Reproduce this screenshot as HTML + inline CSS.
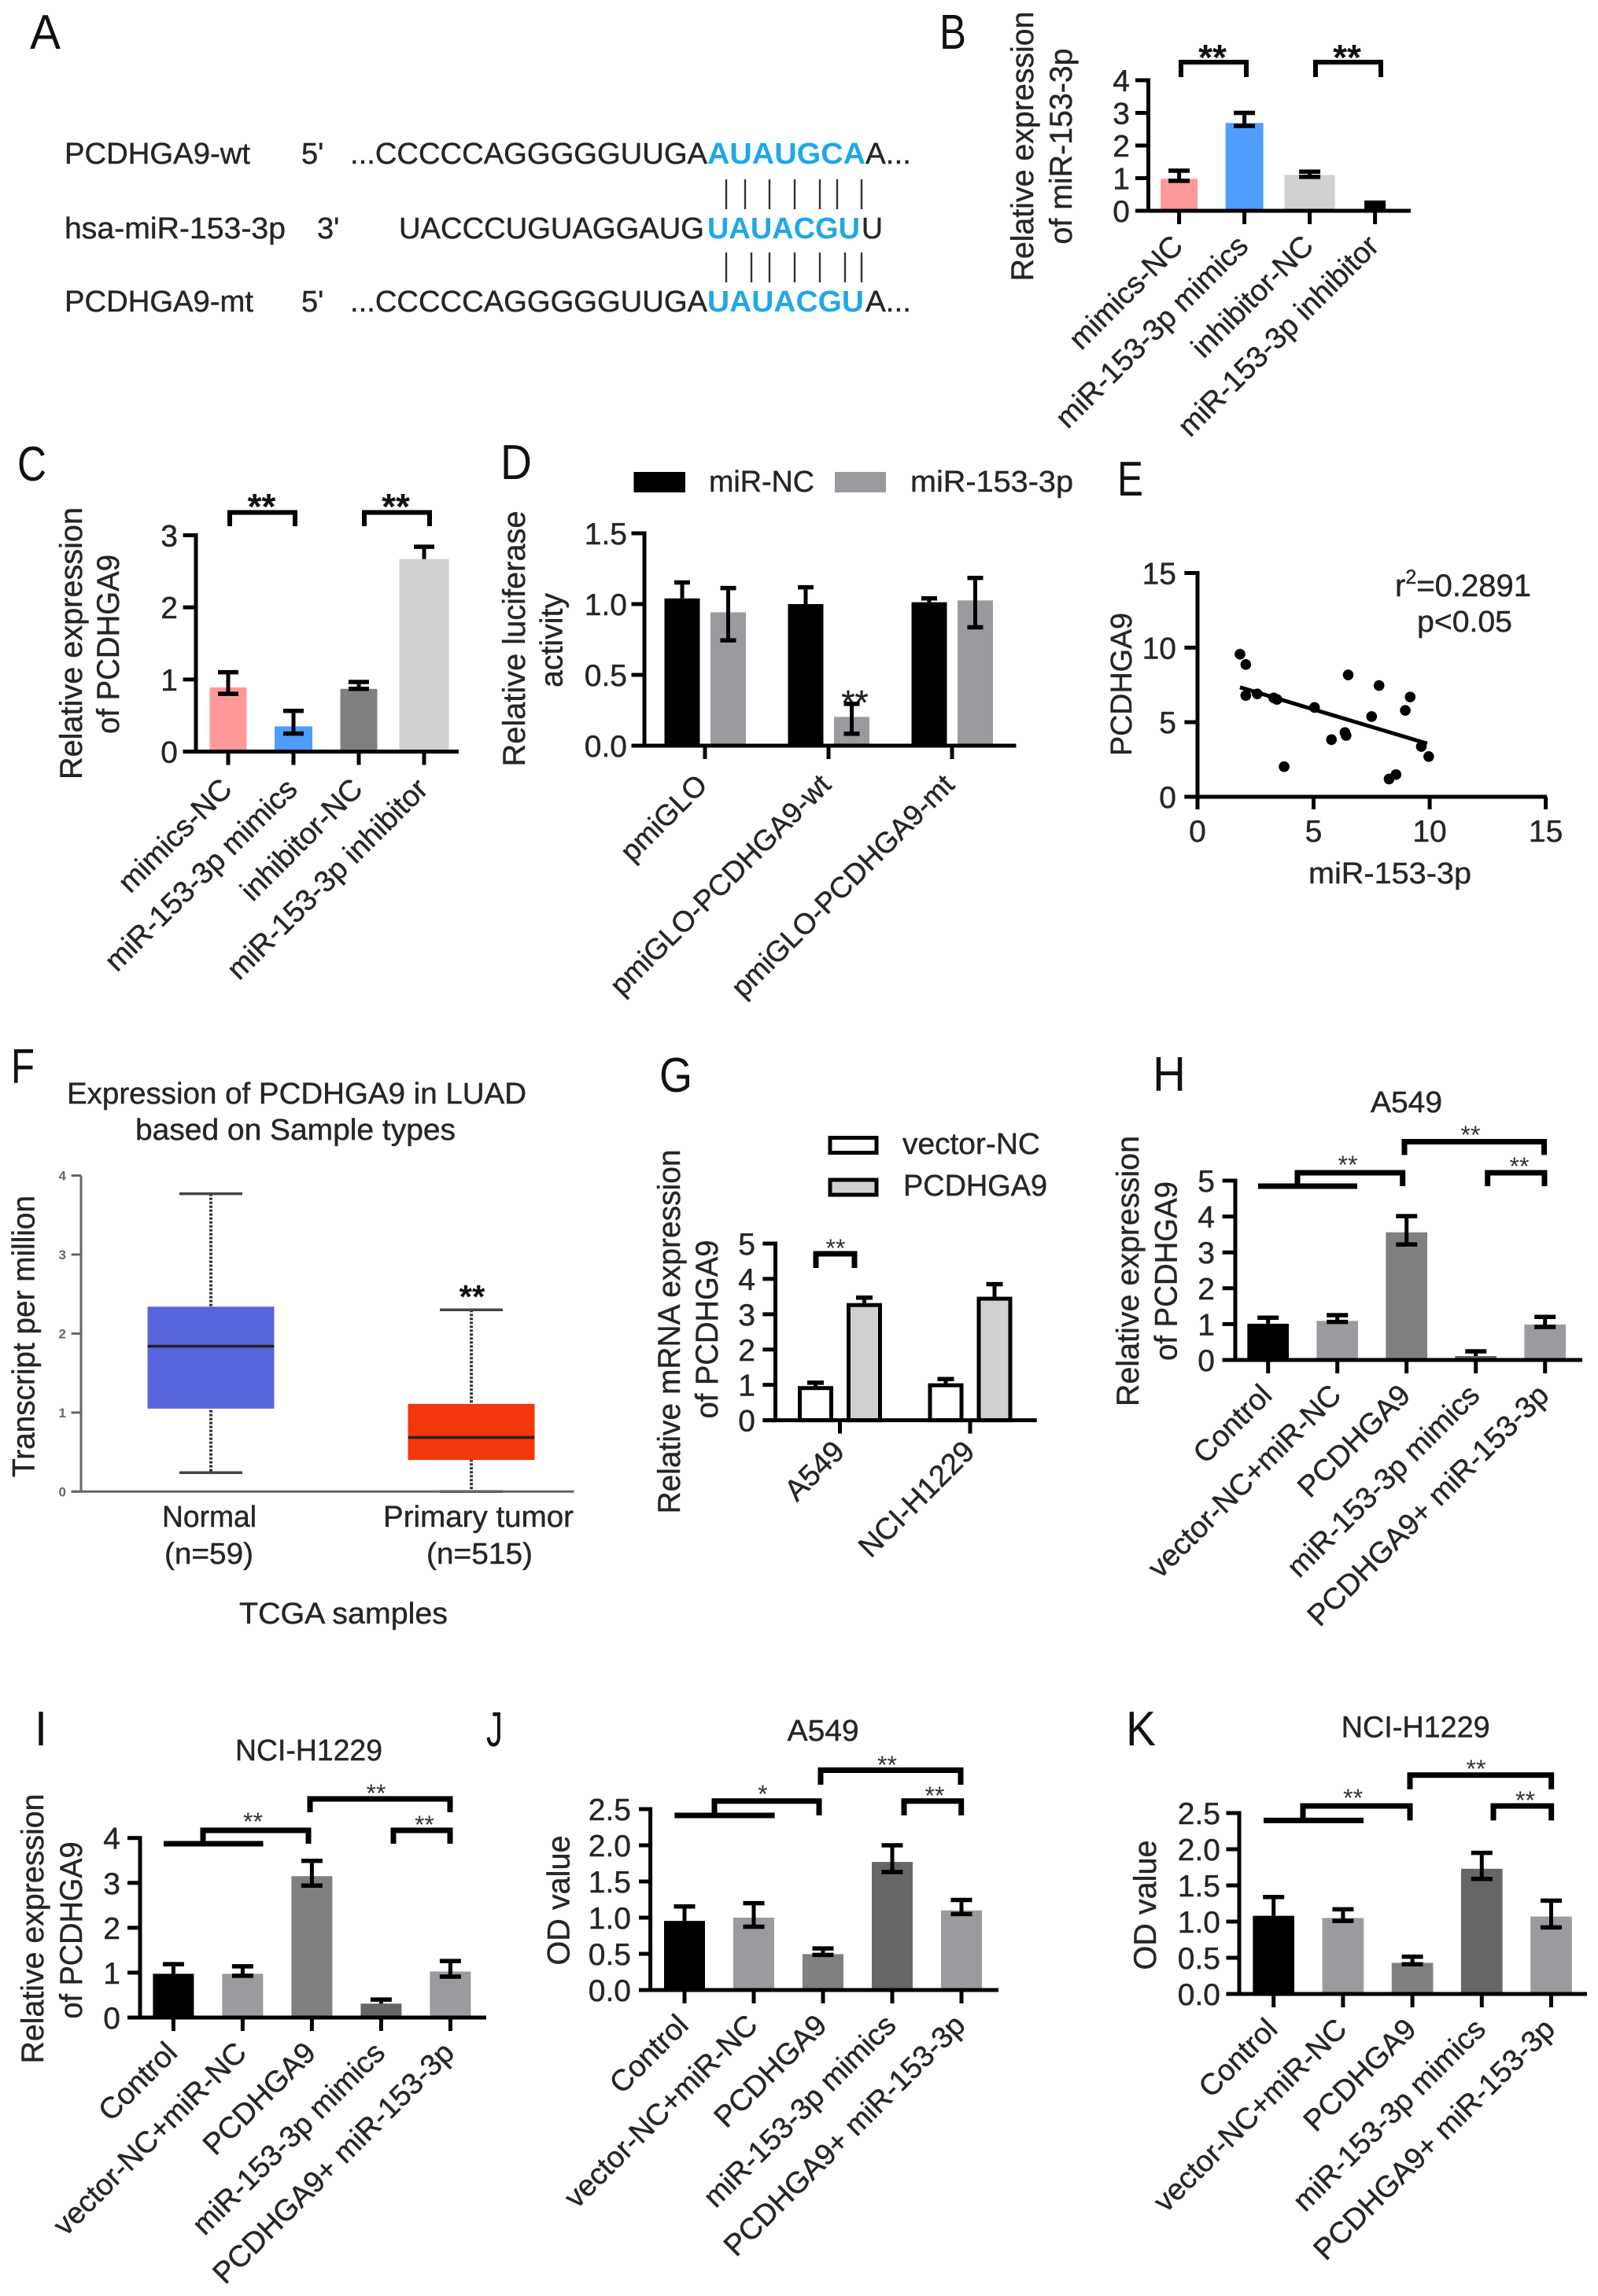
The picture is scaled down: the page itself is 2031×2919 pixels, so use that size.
<!DOCTYPE html>
<html lang="en">
<head>
<meta charset="utf-8">
<title>PCDHGA9 and miR-153-3p multi-panel figure</title>
<style>
html,body{margin:0;padding:0;background:#fff;}
#figure{display:block;position:absolute;left:0;top:0;}
text{font-family:"Liberation Sans",sans-serif;fill:#262626;stroke:#262626;stroke-width:0.45px;}
.letter{font-size:62px;fill:#111;stroke:none;}
.t38{font-size:38px;}
.t40{font-size:40px;}
.blue{font-size:38px;font-weight:bold;fill:#1FA8E4;stroke:none;}
.starb{font-weight:bold;fill:#111;stroke:none;text-anchor:middle;}
.star{fill:#333;stroke:none;text-anchor:middle;font-size:32px;}
.bracket{fill:none;stroke:#000;stroke-width:6;}
.bracket7{fill:none;stroke:#000;stroke-width:7;}
.pair{stroke:#333;stroke-width:2.4;}
</style>
</head>
<body>
<svg id="figure" xmlns="http://www.w3.org/2000/svg" width="2031" height="2919" viewBox="0 0 2031 2919">
<rect width="2031" height="2919" fill="#fff"/>

<!-- Panel letters -->
<text class="letter" x="38" y="62" textLength="39" lengthAdjust="spacingAndGlyphs">A</text>
<text class="letter" x="1194" y="62" textLength="34" lengthAdjust="spacingAndGlyphs">B</text>
<text class="letter" x="22" y="611" textLength="37" lengthAdjust="spacingAndGlyphs">C</text>
<text class="letter" x="636" y="609" textLength="40" lengthAdjust="spacingAndGlyphs">D</text>
<text class="letter" x="1420" y="630" textLength="33" lengthAdjust="spacingAndGlyphs">E</text>
<text class="letter" x="14" y="1377" textLength="30" lengthAdjust="spacingAndGlyphs">F</text>
<text class="letter" x="838" y="1388" textLength="42" lengthAdjust="spacingAndGlyphs">G</text>
<text class="letter" x="1465" y="1387" textLength="42" lengthAdjust="spacingAndGlyphs">H</text>
<text class="letter" x="44" y="2219" textLength="16" lengthAdjust="spacingAndGlyphs">I</text>
<text class="letter" x="618" y="2220" textLength="21" lengthAdjust="spacingAndGlyphs">J</text>
<text class="letter" x="1431" y="2219" textLength="38" lengthAdjust="spacingAndGlyphs">K</text>

<!-- Panel A sequences -->
<g>
<text class="t38" x="82" y="208" textLength="236" lengthAdjust="spacingAndGlyphs">PCDHGA9-wt</text>
<text class="t38" x="383" y="208">5'</text>
<text class="t38" x="445" y="208" textLength="454" lengthAdjust="spacingAndGlyphs">...CCCCCAGGGGGUUGA</text>
<text class="blue" x="899" y="208" textLength="201" lengthAdjust="spacingAndGlyphs">AUAUGCA</text>
<text class="t38" x="1100" y="208" textLength="58" lengthAdjust="spacingAndGlyphs">A...</text>
<text class="t38" x="82" y="303" textLength="281" lengthAdjust="spacingAndGlyphs">hsa-miR-153-3p</text>
<text class="t38" x="403" y="303">3'</text>
<text class="t38" x="507" y="303" textLength="388" lengthAdjust="spacingAndGlyphs">UACCCUGUAGGAUG</text>
<text class="blue" x="899" y="303" textLength="194" lengthAdjust="spacingAndGlyphs">UAUACGU</text>
<text class="t38" x="1095" y="303" textLength="27" lengthAdjust="spacingAndGlyphs">U</text>
<text class="t38" x="82" y="396" textLength="240" lengthAdjust="spacingAndGlyphs">PCDHGA9-mt</text>
<text class="t38" x="383" y="396">5'</text>
<text class="t38" x="445" y="396" textLength="454" lengthAdjust="spacingAndGlyphs">...CCCCCAGGGGGUUGA</text>
<text class="blue" x="899" y="396" textLength="199" lengthAdjust="spacingAndGlyphs">UAUACGU</text>
<text class="t38" x="1100" y="396" textLength="58" lengthAdjust="spacingAndGlyphs">A...</text>
<path class="pair" d="M923 228V266M947 228V266M978 228V266M1010 228V266M1042 228V266M1064 228V266M1095 228V266"/>
<path class="pair" d="M923 321V359M955 321V359M978 321V359M1010 321V359M1042 321V359M1074 321V359M1095 321V359"/>
</g>

<!-- Axis titles, chart titles, legends and annotation -->
<g>
<text class="t40" transform="translate(1313,186) rotate(-90)" text-anchor="middle" textLength="343" lengthAdjust="spacingAndGlyphs">Relative expression</text>
<text class="t40" transform="translate(1362,186) rotate(-90)" text-anchor="middle" textLength="249" lengthAdjust="spacingAndGlyphs">of miR-153-3p</text>
<path class="bracket" d="M1501 98V79H1584V98"/>
<path class="bracket" d="M1672 98V79H1755V98"/>
<text class="starb" x="1541" y="89" font-size="46">**</text>
<text class="starb" x="1712" y="89" font-size="46">**</text>
</g>

<g>
<text class="t40" transform="translate(104,818) rotate(-90)" text-anchor="middle" textLength="346" lengthAdjust="spacingAndGlyphs">Relative expression</text>
<text class="t40" transform="translate(151,819) rotate(-90)" text-anchor="middle" textLength="228" lengthAdjust="spacingAndGlyphs">of PCDHGA9</text>
<path class="bracket" d="M292 669V651.5H375V669"/>
<path class="bracket" d="M463 669V651.5H546V669"/>
<text class="starb" x="332.5" y="660" font-size="46">**</text>
<text class="starb" x="503" y="660" font-size="46">**</text>
</g>

<g>
<text class="t40" transform="translate(667,812) rotate(-90)" text-anchor="middle" textLength="325" lengthAdjust="spacingAndGlyphs">Relative luciferase</text>
<text class="t40" transform="translate(714.5,814) rotate(-90)" text-anchor="middle" textLength="120" lengthAdjust="spacingAndGlyphs">activity</text>
<rect x="805.5" y="600" width="65.5" height="26" fill="#000"/>
<text class="t38" x="901" y="625" textLength="134" lengthAdjust="spacingAndGlyphs">miR-NC</text>
<rect x="1061" y="600" width="65" height="26" fill="#9B9B9F"/>
<text class="t38" x="1157" y="625" textLength="207" lengthAdjust="spacingAndGlyphs">miR-153-3p</text>
<text x="1086.5" y="908" font-size="44" text-anchor="middle" style="fill:#222">**</text>
</g>

<g>
<text class="t38" transform="translate(1438,870) rotate(-90)" text-anchor="middle" textLength="182" lengthAdjust="spacingAndGlyphs">PCDHGA9</text>
<text class="t38" x="1663" y="1123" textLength="207" lengthAdjust="spacingAndGlyphs">miR-153-3p</text>
<text x="1773" y="758" font-size="40">r<tspan dy="-16" font-size="25">2</tspan><tspan dy="16">=0.2891</tspan></text>
<text class="t38" x="1801" y="803" textLength="121" lengthAdjust="spacingAndGlyphs">p&lt;0.05</text>
</g>

<g>
<text class="t38" x="85" y="1403" textLength="584" lengthAdjust="spacingAndGlyphs">Expression of PCDHGA9 in LUAD</text>
<text class="t38" x="172" y="1449" textLength="407" lengthAdjust="spacingAndGlyphs">based on Sample types</text>
<text class="t40" transform="translate(43.6,1699) rotate(-90)" text-anchor="middle" textLength="358" lengthAdjust="spacingAndGlyphs">Transcript per million</text>
<text class="t38" x="206" y="1941" textLength="120" lengthAdjust="spacingAndGlyphs">Normal</text>
<text class="t38" x="209" y="1988" textLength="113" lengthAdjust="spacingAndGlyphs">(n=59)</text>
<text class="t38" x="487" y="1941" textLength="242" lengthAdjust="spacingAndGlyphs">Primary tumor</text>
<text class="t38" x="542" y="1988" textLength="135" lengthAdjust="spacingAndGlyphs">(n=515)</text>
<text class="t38" x="304" y="2064" textLength="265" lengthAdjust="spacingAndGlyphs">TCGA samples</text>
<text class="starb" x="600" y="1663" font-size="42">**</text>
</g>

<g>
<text class="t40" transform="translate(864,1693) rotate(-90)" text-anchor="middle" textLength="463" lengthAdjust="spacingAndGlyphs">Relative mRNA expression</text>
<text class="t40" transform="translate(912,1690) rotate(-90)" text-anchor="middle" textLength="227" lengthAdjust="spacingAndGlyphs">of PCDHGA9</text>
<rect x="1055" y="1446.5" width="59" height="19" fill="#fff" stroke="#000" stroke-width="5"/>
<text class="t38" x="1147" y="1467" textLength="175" lengthAdjust="spacingAndGlyphs">vector-NC</text>
<rect x="1055" y="1500" width="59" height="19" fill="#D0D0D0" stroke="#000" stroke-width="5"/>
<text class="t38" x="1148" y="1520" textLength="183" lengthAdjust="spacingAndGlyphs">PCDHGA9</text>
<path class="bracket7" d="M1037 1612V1594H1086V1612"/>
<text class="star" x="1062" y="1598" font-size="34">**</text>
</g>

<g>
<text class="t38" x="1742" y="1414" textLength="91" lengthAdjust="spacingAndGlyphs">A549</text>
<text class="t40" transform="translate(1447,1616) rotate(-90)" text-anchor="middle" textLength="344" lengthAdjust="spacingAndGlyphs">Relative expression</text>
<text class="t40" transform="translate(1495.4,1616) rotate(-90)" text-anchor="middle" textLength="228" lengthAdjust="spacingAndGlyphs">of PCDHGA9</text>
<path class="bracket7" d="M1599 1508H1725"/>
<path class="bracket7" d="M1649 1508V1491H1782.7V1508"/>
<path class="bracket7" d="M1785 1468.4V1451.5H1962.5V1468.4"/>
<path class="bracket7" d="M1890.7 1508V1491H1963V1508"/>
<text class="star" x="1713" y="1492">**</text>
<text class="star" x="1869" y="1454">**</text>
<text class="star" x="1931" y="1494">**</text>
</g>

<g>
<text class="t38" x="299" y="2238" textLength="187" lengthAdjust="spacingAndGlyphs">NCI-H1229</text>
<text class="t40" transform="translate(55,2452) rotate(-90)" text-anchor="middle" textLength="343" lengthAdjust="spacingAndGlyphs">Relative expression</text>
<text class="t40" transform="translate(104,2454) rotate(-90)" text-anchor="middle" textLength="225" lengthAdjust="spacingAndGlyphs">of PCDHGA9</text>
<path class="bracket7" d="M208 2344H334.5"/>
<path class="bracket7" d="M258 2344V2327H392V2344"/>
<path class="bracket7" d="M394 2304V2287H572V2304"/>
<path class="bracket7" d="M500 2344V2327H572V2344"/>
<text class="star" x="321.5" y="2327">**</text>
<text class="star" x="478" y="2291">**</text>
<text class="star" x="539.4" y="2331">**</text>
</g>

<g>
<text class="t38" x="1000.7" y="2213" textLength="91" lengthAdjust="spacingAndGlyphs">A549</text>
<text class="t40" transform="translate(723.5,2416) rotate(-90)" text-anchor="middle" textLength="165" lengthAdjust="spacingAndGlyphs">OD value</text>
<path class="bracket7" d="M857.4 2308H984.6"/>
<path class="bracket7" d="M908 2308V2289.7H1041V2308"/>
<path class="bracket7" d="M1043 2269V2250.5H1221V2269"/>
<path class="bracket7" d="M1149 2308V2289.7H1221.7V2308"/>
<text class="star" x="969.4" y="2292">*</text>
<text class="star" x="1127.5" y="2255">**</text>
<text class="star" x="1188" y="2294">**</text>
</g>

<g>
<text class="t38" x="1704.7" y="2208.4" textLength="189" lengthAdjust="spacingAndGlyphs">NCI-H1229</text>
<text class="t40" transform="translate(1469,2422) rotate(-90)" text-anchor="middle" textLength="165" lengthAdjust="spacingAndGlyphs">OD value</text>
<path class="bracket7" d="M1606 2314.4H1733"/>
<path class="bracket7" d="M1656 2314.4V2296H1792V2314.4"/>
<path class="bracket7" d="M1792 2274.7V2256.8H1971.7V2274.7"/>
<path class="bracket7" d="M1898 2314.4V2296H1971.7V2314.4"/>
<text class="star" x="1719.6" y="2297">**</text>
<text class="star" x="1876" y="2260">**</text>
<text class="star" x="1938.5" y="2300">**</text>
</g>
</svg>

<script>
// ---------- Panel B ----------
const bCategories = ['mimics-NC', 'miR-153-3p mimics', 'inhibitor-NC', 'miR-153-3p inhibitor'];
const bValues = [0.98, 2.69, 1.1, 0.22];
const bErrHigh = [1.23, 3.0, 1.2, 0.25];
const bErrLow = [0.92, 2.6, 1.04, null];
const bTicks = [0, 1, 2, 3, 4];
const bTickLabels = ['0', '1', '2', '3', '4'];

// ---------- Panel C ----------
const cCategories = ['mimics-NC', 'miR-153-3p mimics', 'inhibitor-NC', 'miR-153-3p inhibitor'];
const cValues = [0.89, 0.35, 0.87, 2.67];
const cErrHigh = [1.1, 0.565, 0.965, 2.84];
const cErrLow = [0.8, 0.25, 0.87, null];
const cTicks = [0, 1, 2, 3];
const cTickLabels = ['0', '1', '2', '3'];

// ---------- Panel D ----------
const dCategories = ['pmiGLO', 'pmiGLO-PCDHGA9-wt', 'pmiGLO-PCDHGA9-mt'];
const dNcValues = [1.04, 1.0, 1.013];
const dNcErrHigh = [1.153, 1.119, 1.04];
const dMirValues = [0.942, 0.203, 1.026];
const dMirErrHigh = [1.113, 0.295, 1.185];
const dMirErrLow = [0.744, 0.084, 0.836];
const dTicks = [0, 0.5, 1, 1.5];
const dTickLabels = ['0.0', '0.5', '1.0', '1.5'];

// ---------- Panel E ----------
const eMiR = [1.83, 2.08, 2.08, 2.57, 3.28, 3.42, 3.73, 5.04, 5.77, 6.35, 6.40, 6.49, 7.5, 7.82, 8.25, 8.55, 8.95, 9.16, 9.64, 9.96];
const ePcdh = [9.56, 8.87, 6.79, 6.9, 6.63, 6.53, 2.02, 5.99, 3.83, 4.31, 4.11, 8.17, 5.38, 7.46, 1.19, 1.49, 5.79, 6.69, 3.37, 2.70];
const eFitX = [1.83, 9.89];
const eFitY = [7.34, 3.57];
const eTicks = [0, 5, 10, 15];
const eTickLabels = ['0', '5', '10', '15'];

// ---------- Panel F ----------
const fGroups = ['Normal', 'Primary tumor'];
const fQ1 = [1.05, 0.40];
const fMedian = [1.84, 0.685];
const fQ3 = [2.34, 1.11];
const fWhiskerLow = [0.24, 0];
const fWhiskerHigh = [3.77, 2.30];
const fTicks = [0, 1, 2, 3, 4];
const fTickLabels = ['0', '1', '2', '3', '4'];

// ---------- Panel G ----------
const gCategories = ['A549', 'NCI-H1229'];
const gVectorValues = [0.91, 0.99];
const gVectorErrHigh = [1.063, 1.166];
const gPcdhValues = [3.26, 3.44];
const gPcdhErrHigh = [3.47, 3.85];
const gTicks = [0, 1, 2, 3, 4, 5];
const gTickLabels = ['0', '1', '2', '3', '4', '5'];

// ---------- Panels H to K ----------
const rescueCategories = ['Control', 'vector-NC+miR-NC', 'PCDHGA9', 'miR-153-3p mimics', 'PCDHGA9+ miR-153-3p'];

const hValues = [1.01, 1.09, 3.56, 0.11, 0.99];
const hErrHigh = [1.18, 1.25, 4.01, 0.24, 1.2];
const hErrLow = [null, 1.06, 3.22, null, 0.92];
const hTicks = [0, 1, 2, 3, 4, 5];
const hTickLabels = ['0', '1', '2', '3', '4', '5'];

const iValues = [0.975, 0.975, 3.15, 0.31, 1.025];
const iErrHigh = [1.19, 1.14, 3.49, 0.40, 1.26];
const iErrLow = [null, 0.93, 2.94, null, 0.91];
const iTicks = [0, 1, 2, 3, 4];
const iTickLabels = ['0', '1', '2', '3', '4'];

const jValues = [0.955, 1.0, 0.496, 1.77, 1.10];
const jErrHigh = [1.155, 1.2, 0.575, 2.0, 1.245];
const jErrLow = [null, 0.875, 0.485, 1.63, 1.05];
const jTicks = [0, 0.5, 1, 1.5, 2, 2.5];
const jTickLabels = ['0.0', '0.5', '1.0', '1.5', '2.0', '2.5'];

const kValues = [1.08, 1.05, 0.43, 1.73, 1.07];
const kErrHigh = [1.34, 1.17, 0.515, 1.95, 1.29];
const kErrLow = [null, 1.01, 0.41, 1.59, 0.92];
const kTicks = [0, 0.5, 1, 1.5, 2, 2.5];
const kTickLabels = ['0.0', '0.5', '1.0', '1.5', '2.0', '2.5'];

const svg = document.getElementById('figure');
const NS = 'http://www.w3.org/2000/svg';

function mk(tag, attrs, parent) {
  const node = document.createElementNS(NS, tag);
  for (const key in attrs) node.setAttribute(key, attrs[key]);
  parent.appendChild(node);
  return node;
}

function makeAxes(c) {
  return Object.assign({ labelDx: 7, labelDy: 47, labelSize: 38 }, c, {
    y: v => c.y0 - v * (c.y0 - c.yTop) / c.vMax,
    x: i => c.first + i * c.step
  });
}

function panelGroup(name) {
  const g = mk('g', {}, svg);
  
  
  return g;
}

function drawBars(g, ax, offset, widthOf, values, hi, lo, fillOf, outline, capHalf) {
  values.forEach((v, i) => {
    const cx = ax.x(i) + offset;
    const w = widthOf(i);
    const top = ax.y(v);
    const r = mk('rect', {
      x: cx - w / 2,
      y: top,
      width: w,
      height: ax.y0 - top,
      fill: fillOf(i),
      stroke: outline ? '#000' : 'none',
      'stroke-width': outline ? 5 : 0
    }, g);
    
    
  });
  values.forEach((v, i) => {
    const cx = ax.x(i) + offset;
    const bottomValue = (lo && lo[i] !== null) ? lo[i] : v;
    const stem = mk('line', {
      x1: cx, x2: cx, y1: ax.y(hi[i]), y2: ax.y(bottomValue),
      stroke: '#000', 'stroke-width': 5
    }, g);
    
    
    const cap = mk('line', {
      x1: cx - capHalf, x2: cx + capHalf, y1: ax.y(hi[i]), y2: ax.y(hi[i]),
      stroke: '#000', 'stroke-width': 5.5
    }, g);
    
    
    if (lo && lo[i] !== null) {
      const capLow = mk('line', {
        x1: cx - capHalf, x2: cx + capHalf, y1: ax.y(lo[i]), y2: ax.y(lo[i]),
        stroke: '#000', 'stroke-width': 5.5
      }, g);
      
      
    }
  });
}

function drawYAxis(g, ax, ticks, labels) {
  const axis = mk('line', {
    x1: ax.axisX, x2: ax.axisX, y1: ax.y(ticks[ticks.length - 1]) - 2.5, y2: ax.y0 + 2.5,
    stroke: '#000', 'stroke-width': 5
  }, g);
  
  
  ticks.forEach((t, i) => {
    const tick = mk('line', {
      x1: ax.xStart, x2: ax.axisX, y1: ax.y(t), y2: ax.y(t),
      stroke: '#000', 'stroke-width': 5
    }, g);
    
    
    const label = mk('text', {
      x: ax.labelRight, y: ax.y(t) + 14, 'text-anchor': 'end', 'font-size': 39
    }, g);
    label.textContent = labels[i];
    
    
  });
}

function drawXAxis(g, ax, categories) {
  const axis = mk('line', {
    x1: ax.xStart, x2: ax.xEnd, y1: ax.y0, y2: ax.y0,
    stroke: '#000', 'stroke-width': 5
  }, g);
  
  
  categories.forEach((cat, i) => {
    const tx = ax.x(i);
    const tick = mk('line', {
      x1: tx, x2: tx, y1: ax.y0, y2: ax.y0 + 17,
      stroke: '#000', 'stroke-width': 5
    }, g);
    
    
    const label = mk('text', {
      transform: 'translate(' + (tx + ax.labelDx) + ',' + (ax.y0 + ax.labelDy) + ') rotate(-45)',
      'text-anchor': 'end',
      'font-size': ax.labelSize
    }, g);
    label.textContent = cat;
    
    
  });
}

// Panel B
const gB = panelGroup('panel-b-mir-153-expression-chart');
const axB = makeAxes({ y0: 268, yTop: 102, vMax: 4, first: 1498.6, step: 83, axisX: 1459.5, xStart: 1443, xEnd: 1793, labelRight: 1436 });
const bWidth = i => [47, 48, 64, 27][i];
const bFill = i => ['#FF9999', '#4F9DFF', '#D0D0D0', '#000000'][i];
drawBars(gB, axB, 0, bWidth, bValues, bErrHigh, bErrLow, bFill, false, 13.5);
drawYAxis(gB, axB, bTicks, bTickLabels);
drawXAxis(gB, axB, bCategories);

// Panel C
const gC = panelGroup('panel-c-pcdhga9-expression-chart');
const axC = makeAxes({ y0: 955.5, yTop: 680.5, vMax: 3, first: 290, step: 83, axisX: 249, xStart: 232.6, xEnd: 583, labelRight: 226, labelDy: 50 });
const cWidth = i => [47, 48, 47, 63][i];
const cFill = i => ['#FF9999', '#4F9DFF', '#808080', '#D0D0D0'][i];
drawBars(gC, axC, 0, cWidth, cValues, cErrHigh, cErrLow, cFill, false, 13);
drawYAxis(gC, axC, cTicks, cTickLabels);
drawXAxis(gC, axC, cCategories);

// Panel D
const gD = panelGroup('panel-d-luciferase-chart');
const axD = makeAxes({ y0: 948, yTop: 678, vMax: 1.5, first: 896, step: 157, axisX: 819, xStart: 802.5, xEnd: 1291.5, labelRight: 797, labelSize: 37, labelDy: 52, labelDx: 5 });
drawBars(gD, axD, -29, () => 45, dNcValues, dNcErrHigh, null, () => '#000000', false, 10);
drawBars(gD, axD, 29.5, () => 45, dMirValues, dMirErrHigh, dMirErrLow, () => '#9B9B9F', false, 10);
drawYAxis(gD, axD, dTicks, dTickLabels);
drawXAxis(gD, axD, dCategories);

// Panel E
const gE = panelGroup('panel-e-correlation-scatter');
const eX = v => 1522 + v * (1964.6 - 1522) / 15;
const eY = v => 1013 - v * (1013 - 728.5) / 15;
const eAxisY = mk('line', { x1: 1522, x2: 1522, y1: eY(15) - 2.5, y2: eY(0) + 2.5, stroke: '#000', 'stroke-width': 5 }, gE);


const eAxisX = mk('line', { x1: 1505.4, x2: 1966, y1: eY(0), y2: eY(0), stroke: '#000', 'stroke-width': 5 }, gE);


eTicks.forEach((t, i) => {
  const ty = mk('line', { x1: 1505.4, x2: 1522, y1: eY(t), y2: eY(t), stroke: '#000', 'stroke-width': 5 }, gE);
  
  
  const ly = mk('text', { x: 1495, y: eY(t) + 14, 'text-anchor': 'end', 'font-size': 39 }, gE);
  ly.textContent = eTickLabels[i];
  
  
  const tx = mk('line', { x1: eX(t), x2: eX(t), y1: eY(0), y2: eY(0) + 16, stroke: '#000', 'stroke-width': 5 }, gE);
  
  
  const lx = mk('text', { x: eX(t), y: 1070, 'text-anchor': 'middle', 'font-size': 39 }, gE);
  lx.textContent = eTickLabels[i];
  
  
});
eMiR.forEach((v, i) => {
  const p = mk('circle', { cx: eX(v), cy: eY(ePcdh[i]), r: 6.8, fill: '#000' }, gE);
  
  
});
const eFit = mk('line', { x1: eX(eFitX[0]), y1: eY(eFitY[0]), x2: eX(eFitX[1]), y2: eY(eFitY[1]), stroke: '#000', 'stroke-width': 5 }, gE);



// Panel F
const gF = panelGroup('panel-f-tcga-box-plot');
const fY = v => 1896.3 - v * (1896.3 - 1494.5) / 4;
const fX = i => 268 + i * 331;
const fColors = ['#5765DC', '#F2370B'];
fGroups.forEach((name, i) => {
  const cx = fX(i);
  const wh = mk('line', { x1: cx, x2: cx, y1: fY(fWhiskerHigh[i]), y2: fY(fWhiskerLow[i]), stroke: '#333', 'stroke-width': 4, 'stroke-dasharray': '3 2' }, gF);
  
  
  const capH = mk('line', { x1: cx - 40, x2: cx + 40, y1: fY(fWhiskerHigh[i]), y2: fY(fWhiskerHigh[i]), stroke: '#444', 'stroke-width': 3.5 }, gF);
  
  
  const capL = mk('line', { x1: cx - 40, x2: cx + 40, y1: fY(fWhiskerLow[i]), y2: fY(fWhiskerLow[i]), stroke: '#444', 'stroke-width': 3.5 }, gF);
  
  
  const box = mk('rect', { x: cx - 80.5, y: fY(fQ3[i]), width: 161, height: fY(fQ1[i]) - fY(fQ3[i]), fill: fColors[i] }, gF);
  
  
  const med = mk('line', { x1: cx - 80.5, x2: cx + 80.5, y1: fY(fMedian[i]), y2: fY(fMedian[i]), stroke: '#222', 'stroke-width': 3.5 }, gF);
  
  
});
const fAxisY = mk('line', { x1: 103, x2: 103, y1: fY(4), y2: fY(0), stroke: '#666', 'stroke-width': 3 }, gF);


const fAxisX = mk('line', { x1: 90.6, x2: 729.5, y1: fY(0), y2: fY(0), stroke: '#666', 'stroke-width': 3 }, gF);


fTicks.forEach((t, i) => {
  const tick = mk('line', { x1: 90.6, x2: 103, y1: fY(t), y2: fY(t), stroke: '#666', 'stroke-width': 3 }, gF);
  
  
  const label = mk('text', { x: 84, y: fY(t) + 6, 'text-anchor': 'end', 'font-size': 17, 'font-weight': 'bold', style: 'fill:#666;stroke:none' }, gF);
  label.textContent = fTickLabels[i];
  
  
});

// Panel G
const gG = panelGroup('panel-g-mrna-expression-chart');
const axG = makeAxes({ y0: 1805.6, yTop: 1581, vMax: 5, first: 1067.5, step: 165.5, axisX: 985.5, xStart: 969.4, xEnd: 1317.7, labelRight: 960, labelDx: 8, labelDy: 42 });
drawBars(gG, axG, -31, () => 40, gVectorValues, gVectorErrHigh, null, () => '#FFFFFF', true, 10.5);
drawBars(gG, axG, 31, () => 40, gPcdhValues, gPcdhErrHigh, null, () => '#D0D0D0', true, 10.5);
drawYAxis(gG, axG, gTicks, gTickLabels);
drawXAxis(gG, axG, gCategories);

// Shared fills for the rescue panels
const rescueFill = i => ['#000000', '#9B9B9F', '#808080', '#666666', '#9B9B9F'][i];

// Panel H
const gH = panelGroup('panel-h-a549-expression-chart');
const axH = makeAxes({ y0: 1729, yTop: 1501, vMax: 5, first: 1611.7, step: 88, axisX: 1570, xStart: 1553.6, xEnd: 2011, labelRight: 1544 });
drawBars(gH, axH, 0, () => 52.7, hValues, hErrHigh, hErrLow, rescueFill, false, 13.5);
drawYAxis(gH, axH, hTicks, hTickLabels);
drawXAxis(gH, axH, rescueCategories);

// Panel I
const gI = panelGroup('panel-i-nci-h1229-expression-chart');
const axI = makeAxes({ y0: 2565, yTop: 2336.7, vMax: 4, first: 220.4, step: 88, axisX: 178, xStart: 162, xEnd: 618, labelRight: 153 });
drawBars(gI, axI, 0, () => 52, iValues, iErrHigh, iErrLow, rescueFill, false, 13.5);
drawYAxis(gI, axI, iTicks, iTickLabels);
drawXAxis(gI, axI, rescueCategories);

// Panel J
const gJ = panelGroup('panel-j-a549-od-chart');
const axJ = makeAxes({ y0: 2530, yTop: 2300, vMax: 2.5, first: 870, step: 88, axisX: 826.6, xStart: 812, xEnd: 1269, labelRight: 802 });
drawBars(gJ, axJ, 0, () => 52, jValues, jErrHigh, jErrLow, rescueFill, false, 13.5);
drawYAxis(gJ, axJ, jTicks, jTickLabels);
drawXAxis(gJ, axJ, rescueCategories);

// Panel K
const gK = panelGroup('panel-k-nci-h1229-od-chart');
const axK = makeAxes({ y0: 2535, yTop: 2305, vMax: 2.5, first: 1618.7, step: 88.2, axisX: 1575, xStart: 1558.5, xEnd: 2017, labelRight: 1551 });
drawBars(gK, axK, 0, () => 52.7, kValues, kErrHigh, kErrLow, rescueFill, false, 13.5);
drawYAxis(gK, axK, kTicks, kTickLabels);
drawXAxis(gK, axK, rescueCategories);
</script>
</body>
</html>
